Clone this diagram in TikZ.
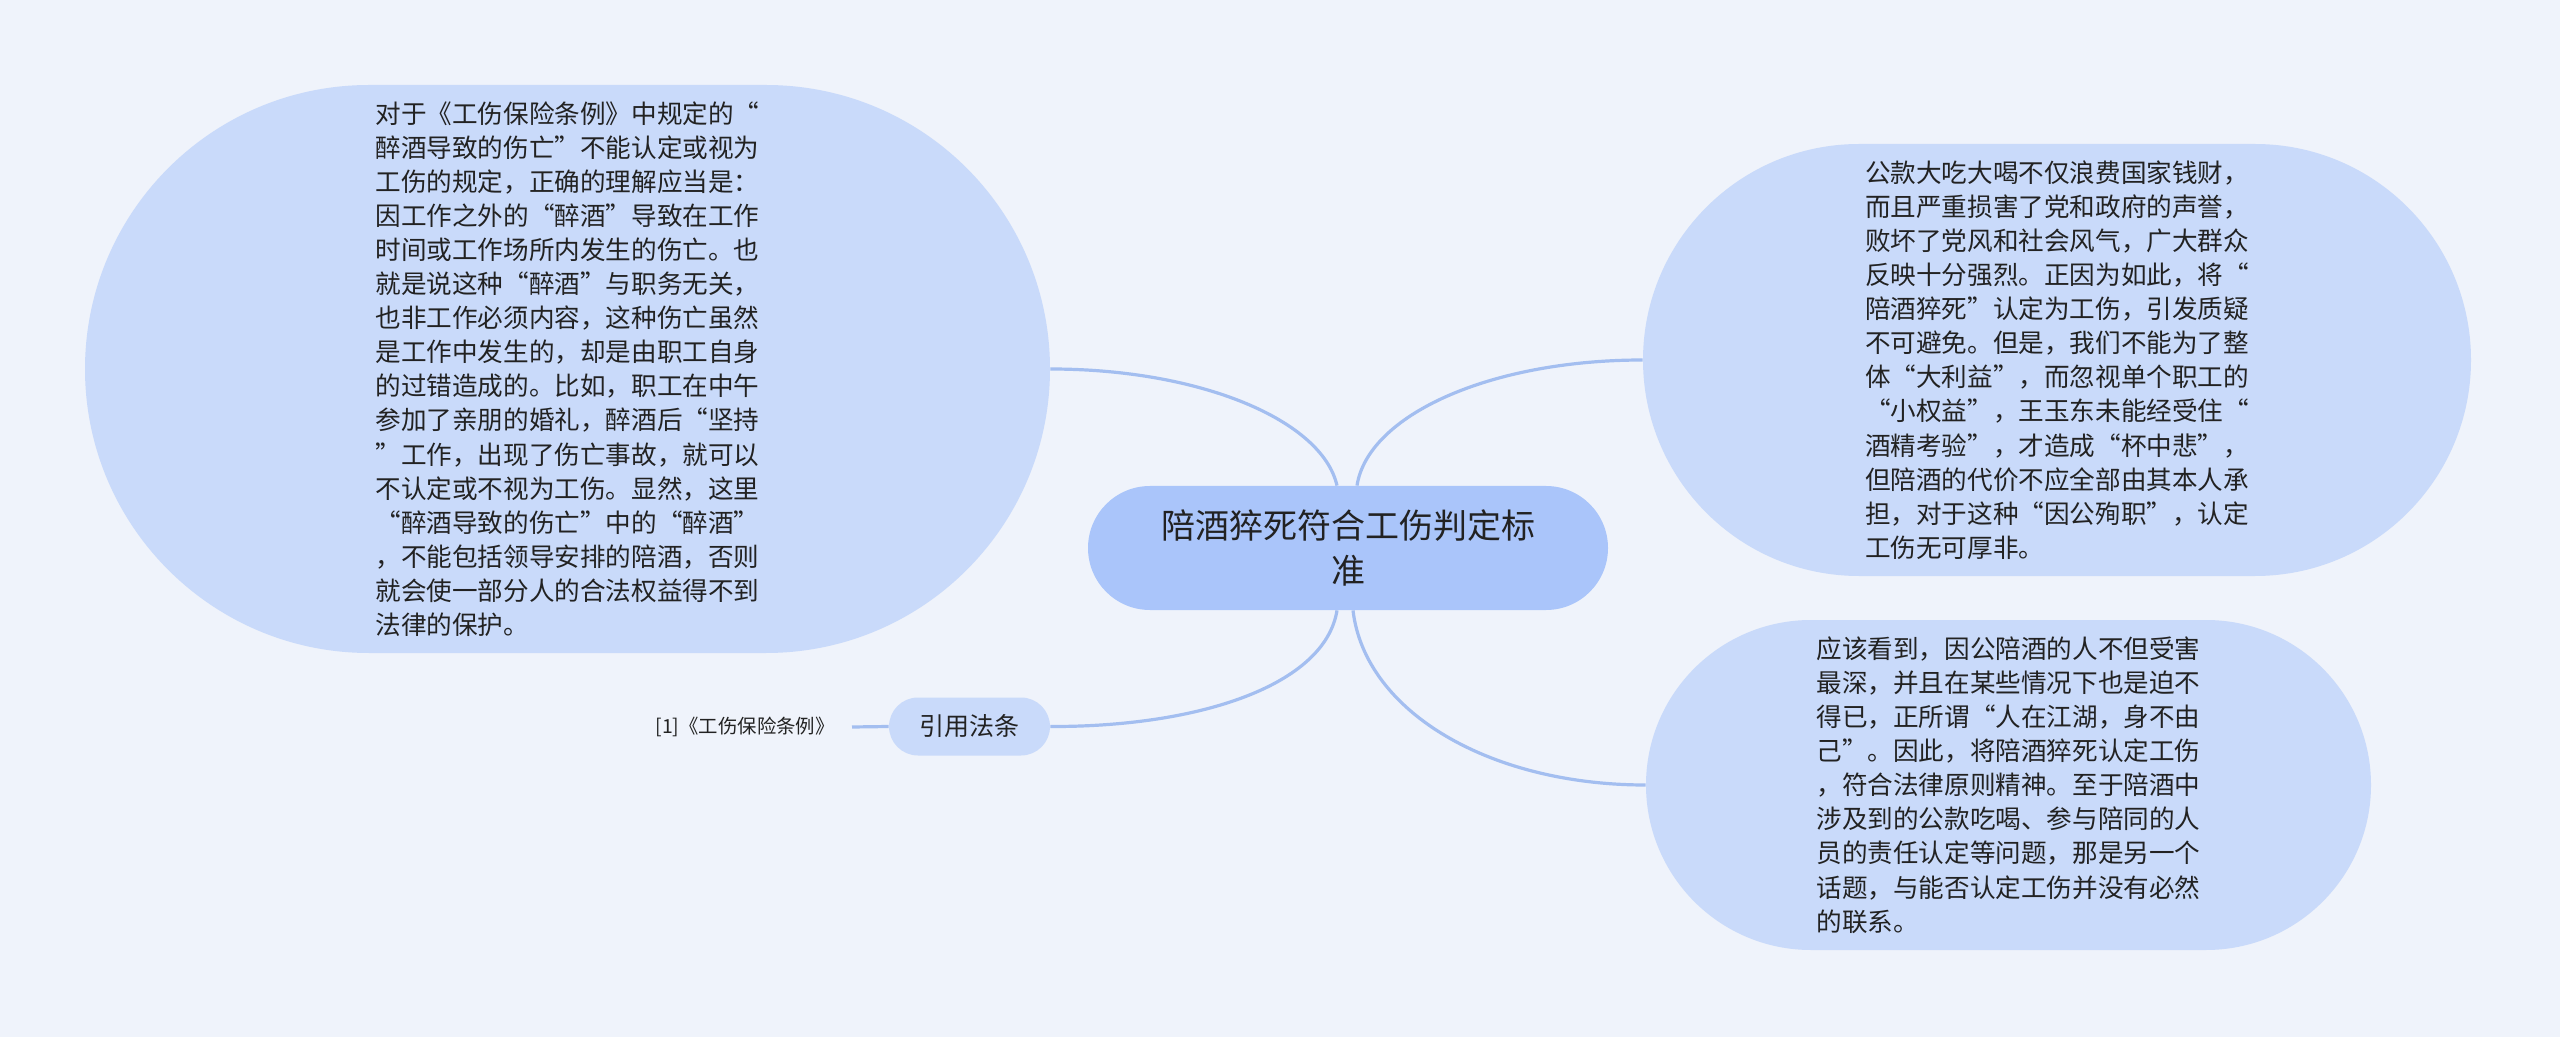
\documentclass[tikz,border=0pt]{standalone}
\usepackage{fontspec}
\setmainfont{Noto Sans CJK SC}
\definecolor{bgc}{RGB}{239,243,251}
\definecolor{childc}{RGB}{201,218,250}
\definecolor{rootc}{RGB}{170,197,250}
\definecolor{linec}{RGB}{163,190,240}
\definecolor{textc}{RGB}{34,34,34}
\begin{document}
\begin{tikzpicture}[x=0.5pt,y=-0.5pt,
  leaf/.style={fill=childc, inner sep=0pt, text=textc, align=left,
    font=\fontsize{12.8}{17.05}\selectfont},
  rootbox/.style={fill=rootc, inner sep=0pt, text=textc, align=center,
    font=\fontsize{17}{22.5}\selectfont},
  citebox/.style={fill=childc, inner sep=0pt, text=textc,
    font=\fontsize{12.5}{15}\selectfont},
  labeltext/.style={inner xsep=8.5pt, inner ysep=0pt, text=textc,
    font=\fontsize{9.7}{11}\selectfont},
  conn/.style={draw=linec, line width=1.6pt}]
\fill[bgc] (0,0) rectangle (2560,1037);
\useasboundingbox (0,0) rectangle (2560,1037);

\node[rootbox, minimum width=260pt, minimum height=62pt, rounded corners=31pt] (root) at (1348,548)
  {陪酒猝死符合工伤判定标\\准};

\node[leaf, minimum width=482.5pt, minimum height=284pt, rounded corners=142pt] (left) at (567.5,369)
  {对于《工伤保险条例》中规定的“\\
   醉酒导致的伤亡”不能认定或视为\\
   工伤的规定，正确的理解应当是：\\
   因工作之外的“醉酒”导致在工作\\
   时间或工作场所内发生的伤亡。也\\
   就是说这种“醉酒”与职务无关，\\
   也非工作必须内容，这种伤亡虽然\\
   是工作中发生的，却是由职工自身\\
   的过错造成的。比如，职工在中午\\
   参加了亲朋的婚礼，醉酒后“坚持\\
   ”工作，出现了伤亡事故，就可以\\
   不认定或不视为工伤。显然，这里\\
   “醉酒导致的伤亡”中的“醉酒”\\
   ，不能包括领导安排的陪酒，否则\\
   就会使一部分人的合法权益得不到\\
   法律的保护。};

\node[leaf, minimum width=414pt, minimum height=216pt, rounded corners=108pt] (rtop) at (2057,360)
  {公款大吃大喝不仅浪费国家钱财，\\
   而且严重损害了党和政府的声誉，\\
   败坏了党风和社会风气，广大群众\\
   反映十分强烈。正因为如此，将“\\
   陪酒猝死”认定为工伤，引发质疑\\
   不可避免。但是，我们不能为了整\\
   体“大利益”，而忽视单个职工的\\
   “小权益”，王玉东未能经受住“\\
   酒精考验”，才造成“杯中悲”，\\
   但陪酒的代价不应全部由其本人承\\
   担，对于这种“因公殉职”，认定\\
   工伤无可厚非。};

\node[leaf, minimum width=362.5pt, minimum height=165pt, rounded corners=82.5pt] (rbot) at (2008.5,785)
  {应该看到，因公陪酒的人不但受害\\
   最深，并且在某些情况下也是迫不\\
   得已，正所谓“人在江湖，身不由\\
   己”。因此，将陪酒猝死认定工伤\\
   ，符合法律原则精神。至于陪酒中\\
   涉及到的公款吃喝、参与陪同的人\\
   员的责任认定等问题，那是另一个\\
   话题，与能否认定工伤并没有必然\\
   的联系。};

\node[citebox, minimum width=80.5pt, minimum height=29pt, rounded corners=14.5pt] (cite) at (969.5,726.5)
  {引用法条};

\node[labeltext, anchor=east] (law) at (852,727) {[1]《工伤保险条例》};

\path[conn] ([xshift=-5.5pt]root.north) .. controls (1322,420) and (1200,369) .. (left.east);
\path[conn] ([xshift=4.5pt]root.north) .. controls (1368,415) and (1490,360) .. (rtop.west);
\path[conn] ([xshift=-5.5pt]root.south) .. controls (1325,685) and (1200,727) .. (cite.east);
\path[conn] ([xshift=2.5pt]root.south) .. controls (1365,712) and (1490,785) .. (rbot.west);
\path[conn] (cite.west) -- (law.east);
\end{tikzpicture}
\end{document}
